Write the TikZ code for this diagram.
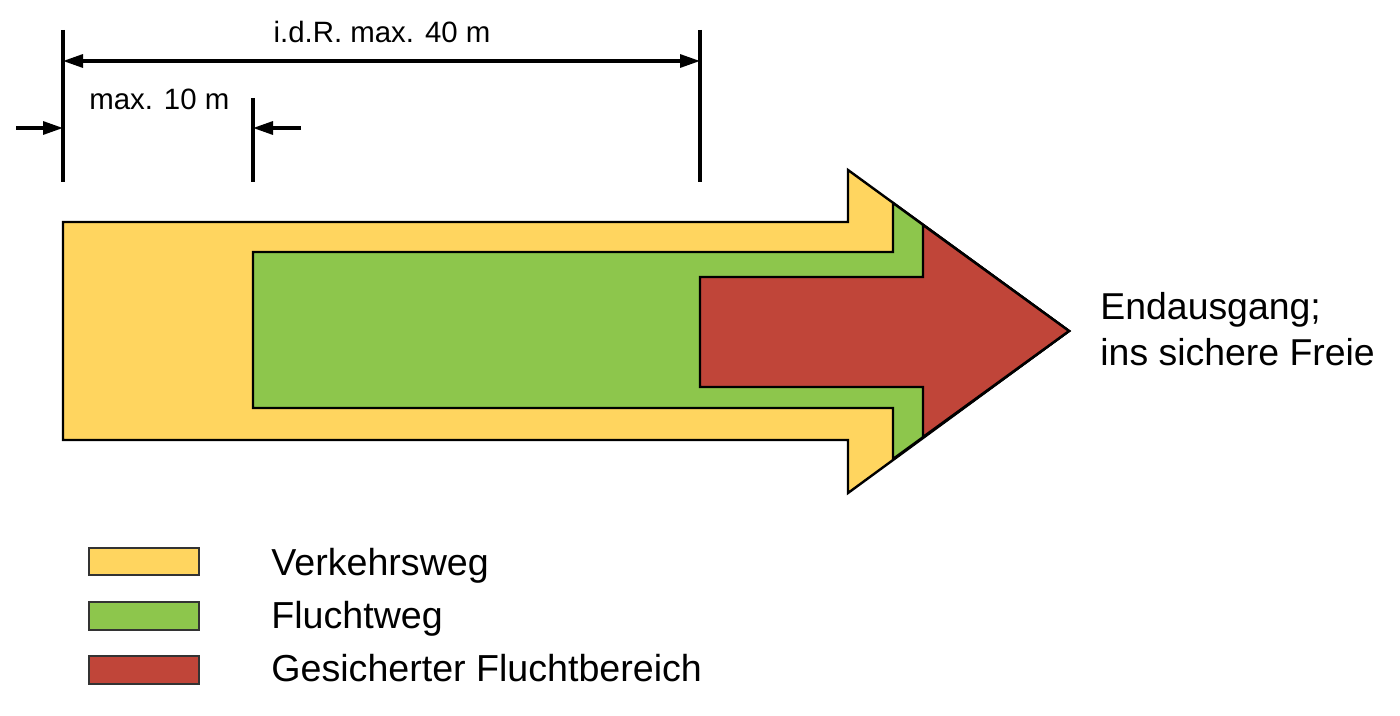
\documentclass[tikz,border=0pt]{standalone}
\usepackage{fontspec}
\setmainfont{Liberation Sans}
\usetikzlibrary{arrows.meta}
\definecolor{gelb}{RGB}{255,213,95}
\definecolor{gruen}{RGB}{141,198,76}
\definecolor{rot}{RGB}{192,69,57}
\begin{document}
\begin{tikzpicture}[x=0.5pt,y=-0.5pt,line join=miter]
\tikzset{
  area/.style={draw=black,line width=1.2pt},
  dimline/.style={line width=1.6pt},
  tipped/.style={line width=1.6pt,-{Triangle[length=10pt,width=6.5pt]}},
  lbl/.style={inner sep=0pt,anchor=base west},
  legbox/.style={draw=black!80,line width=0.9pt},
}
\useasboundingbox (0,0) rectangle (1400,716);
% arrows
\draw[area,fill=gelb] (63,222) -- (848,222) -- (848,170) -- (1069,331) -- (848,493) -- (848,440) -- (63,440) -- cycle;
\draw[area,fill=gruen] (253,252) -- (893,252) -- (893,203) -- (1069,331) -- (893,459) -- (893,408) -- (253,408) -- cycle;
\draw[area,fill=rot] (700,277) -- (923,277) -- (923,225) -- (1069,331) -- (923,437) -- (923,387) -- (700,387) -- cycle;
% dimension lines
\coordinate (v1t) at (63,30);  \coordinate (v1b) at (63,182);
\coordinate (v2t) at (253,98); \coordinate (v2b) at (253,182);
\coordinate (v3t) at (700,30); \coordinate (v3b) at (700,182);
\draw[dimline] (v1t) -- (v1b);
\draw[dimline] (v2t) -- (v2b);
\draw[dimline] (v3t) -- (v3b);
\coordinate (d1) at (63,61); \coordinate (d2) at (700,61);
\draw[line width=1.6pt,{Triangle[length=10pt,width=6.5pt]}-{Triangle[length=10pt,width=6.5pt]}] (d1) -- (d2);
\coordinate (a1s) at (16,128); \coordinate (a1e) at (63,128);
\coordinate (a2s) at (301,128); \coordinate (a2e) at (253,128);
\draw[tipped] (a1s) -- (a1e);
\draw[tipped] (a2s) -- (a2e);
\node[inner sep=0pt,anchor=base,font=\fontsize{14.7}{17}\selectfont] (top) at (382,43) {i.d.R. max. 40 m};
\node[lbl,font=\fontsize{14.7}{17}\selectfont] (ten) at (89,110) {max. 10 m};
% right text
\node[lbl,font=\fontsize{18.7}{22}\selectfont] (end1) at (1100,320) {Endausgang;};
\node[lbl,font=\fontsize{18.7}{22}\selectfont] (end2) at (1100,365) {ins sichere Freie};
% legend
\draw[legbox,fill=gelb] (89,548) rectangle (199,575);
\draw[legbox,fill=gruen] (89,602) rectangle (199,630);
\draw[legbox,fill=rot] (89,656) rectangle (199,684);
\node[lbl,font=\fontsize{18.8}{22}\selectfont] (l1) at (271,575) {Verkehrsweg};
\node[lbl,font=\fontsize{18.8}{22}\selectfont] (l2) at (271,628) {Fluchtweg};
\node[lbl,font=\fontsize{18.8}{22}\selectfont] (l3) at (271,681) {Gesicherter Fluchtbereich};
\end{tikzpicture}
\end{document}
